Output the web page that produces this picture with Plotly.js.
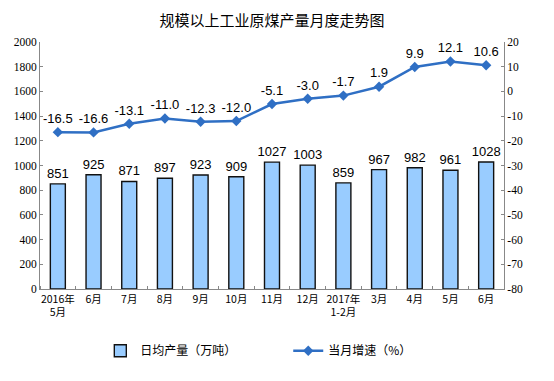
<!DOCTYPE html>
<html><head><meta charset="utf-8">
<script src="https://cdn.plot.ly/plotly-3.0.1.min.js"></script>
<style>html,body{margin:0;padding:0;background:#fff}</style>
</head><body><div id="chart" style="width:554px;height:381px"></div>
<script>
const categories = ["2016年<br>5月","6月","7月","8月","9月","10月","11月","12月","2017年<br>1-2月","3月","4月","5月","6月"];
const dailyOutput = [851, 925, 871, 897, 923, 909, 1027, 1003, 859, 967, 982, 961, 1028];
const monthlyGrowth = [-16.5, -16.6, -13.1, -11.0, -12.3, -12.0, -5.1, -3.0, -1.7, 1.9, 9.9, 12.1, 10.6];
const leftTicks = [0,200,400,600,800,1000,1200,1400,1600,1800,2000];
const rightTicks = [-80,-70,-60,-50,-40,-30,-20,-10,0,10,20];

const idx = categories.map((c,i)=>i);

const traces = [
  {type:'bar', x:idx, y:dailyOutput, name:'日均产量（万吨）', yaxis:'y',
   width:0.42,
   marker:{color:'#99CCFF', line:{color:'#111', width:1.4}},
   text:dailyOutput.map(String), textposition:'outside', cliponaxis:false, constraintext:'none',
   textfont:{family:'Liberation Sans, Arial', size:13, color:'#000'},
   legend:'legend'},
  {type:'scatter', mode:'lines+markers+text', x:idx, y:monthlyGrowth, yaxis:'y2',
   name:'当月增速（%）',
   line:{color:'#2F6FC4', width:2.5},
   marker:{symbol:'diamond', size:8, color:'#2F6FC4'},
   text:monthlyGrowth.map(v=>v.toFixed(1)), textposition:'top center', cliponaxis:false,
   textfont:{family:'Liberation Sans, Arial', size:13, color:'#000'},
   legend:'legend2'}
];

const layout = {
  width:554, height:381,
  margin:{l:40, r:50, t:42, b:92},
  paper_bgcolor:'#fff', plot_bgcolor:'#fff',
  title:{text:'规模以上工业原煤产量月度走势图', x:0.5, xref:'paper', y:0.945, yanchor:'middle',
         font:{family:'Noto Sans CJK SC', size:15, color:'#000'}},
  xaxis:{range:[-0.5, categories.length-0.5], tickmode:'array', tickvals:idx, ticktext:categories,
         tickangle:0, showline:true, linecolor:'#888', linewidth:1,
         ticks:'', showgrid:false, zeroline:false,
         minor:{tick0:-0.5, dtick:1, ticks:'inside', ticklen:3, tickcolor:'#888', showgrid:false},
         tickfont:{family:'Noto Sans CJK SC', size:10.5, color:'#000'}},
  yaxis:{range:[0,2000], tickvals:leftTicks, ticktext:leftTicks.map(String),
         showline:true, linecolor:'#888', ticks:'inside', ticklen:3, tickcolor:'#888',
         showgrid:false, zeroline:false,
         tickfont:{family:'Liberation Serif, Times New Roman', size:11.5, color:'#000'}},
  yaxis2:{range:[-80,20], overlaying:'y', side:'right', tickvals:rightTicks, ticktext:rightTicks.map(String),
         showline:true, linecolor:'#888', ticks:'inside', ticklen:3, tickcolor:'#888',
         showgrid:false, zeroline:false,
         tickfont:{family:'Liberation Serif, Times New Roman', size:11.5, color:'#000'}},
  showlegend:true,
  legend:{orientation:'h', x:0.13, y:-0.25, xanchor:'left', yanchor:'middle',
          font:{family:'Noto Sans CJK SC', size:12, color:'#000'}, bgcolor:'rgba(0,0,0,0)'},
  legend2:{orientation:'h', x:0.535, y:-0.25, xanchor:'left', yanchor:'middle',
          font:{family:'Noto Sans CJK SC', size:12, color:'#000'}, bgcolor:'rgba(0,0,0,0)'}
};
Plotly.newPlot('chart', traces, layout, {displayModeBar:false, staticPlot:true});
</script></body></html>
